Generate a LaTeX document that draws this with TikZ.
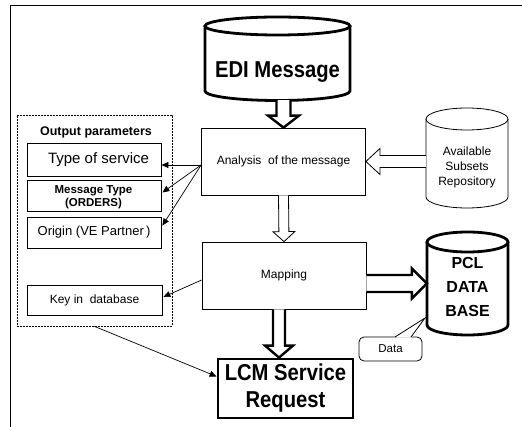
\documentclass[tikz,border=0pt]{standalone}
\usepackage{fontspec}
\setmainfont{Liberation Sans}
\usetikzlibrary{arrows.meta,calc}

% hollow block arrow: [style]{start}{tip}{shaft half width}{head half width}{head length}
\newcommand\blockarrow[6][]{%
  \coordinate (ba-h) at ($(#3)!#6!(#2)$);
  \filldraw[fill=white,#1]
    ($(#2)!#4!90:(#3)$) -- ($(ba-h)!#4!90:(#3)$) -- ($(ba-h)!#5!90:(#3)$) -- (#3)
    -- ($(ba-h)!#5!-90:(#3)$) -- ($(ba-h)!#4!-90:(#3)$) -- ($(#2)!#4!-90:(#3)$);
}

\tikzset{
  x=1pt, y=-1pt,
  box/.style={draw, line width=0.8pt, inner sep=0pt},
  heavy/.style={line width=2.8pt},
  thin/.style={line width=0.8pt},
  link/.style={line width=0.7pt, -{Triangle[length=7pt,width=6pt]}},
  txt/.style={inner sep=0pt, align=center},
}

\begin{document}
\begin{tikzpicture}
\useasboundingbox (0,0) rectangle (522,427);

% page frame (top and left edges)
\draw[thin] (10,427) -- (10,5) -- (522,5);

% ---- EDI message drum
\draw[heavy] (205,26) -- (205,91) arc[start angle=180,end angle=360,x radius=72.5pt,y radius=9.5pt] -- (350,26);
\draw[heavy] (277.5,26) ellipse[x radius=72.5pt,y radius=9pt];
\node[inner sep=0pt, minimum width=145pt, minimum height=83pt] (edi) at (277.5,58.5) {};
\node[txt, font=\fontsize{23}{26}\selectfont\bfseries] (editxt) at (277.5,72) {\scalebox{0.88}[1]{EDI Message}};

% ---- process boxes
\node[box, minimum width=164pt, minimum height=67pt, font=\fontsize{12}{14}\selectfont] (ana) at (283.5,161.5) {Analysis\ \ of the message};
\node[box, minimum width=164pt, minimum height=67pt, font=\fontsize{12}{14}\selectfont] (map) at (284,275.5) {Mapping};
\node[box, heavy, minimum width=135pt, minimum height=59pt, align=center,
      font=\fontsize{23}{28}\selectfont\bfseries] (lcm) at (285.5,388.5)
      {\scalebox{0.88}[1]{LCM Service}\\[-1pt]\scalebox{0.88}[1]{Request}};

% ---- output parameters group
\node[box, dash pattern=on 2pt off 1pt, minimum width=155pt, minimum height=211pt] (out) at (94.5,220.5) {};
\node[txt, font=\fontsize{12.5}{14}\selectfont\bfseries] (outtitle) at (96,132) {Output parameters};
\node[box, minimum width=134pt, minimum height=33pt, font=\fontsize{15}{17}\selectfont] (tos) at (94,159.5) {\hspace*{9pt}Type of service};
\node[box, minimum width=134pt, minimum height=31pt] (msg) at (94,195.5) {};
\node[txt, font=\fontsize{11.5}{13.5}\selectfont\bfseries] (msgtxt) at (93.5,197) {Message Type\\(ORDERS)};
\node[box, minimum width=134pt, minimum height=31pt, font=\fontsize{13}{15}\selectfont] (ori) at (94,232.5) {Origin (VE Partner\,)};
\node[box, minimum width=135pt, minimum height=30pt, font=\fontsize{12}{14}\selectfont] (key) at (94.5,300) {Key in\ \ database};

% ---- repository drum
\draw[thin] (426,119) -- (426,197) arc[start angle=180,end angle=360,x radius=41pt,y radius=11pt] -- (508,119);
\draw[thin] (467,119) ellipse[x radius=41pt,y radius=11pt];
\node[inner sep=0pt, minimum width=82pt, minimum height=100pt] (rep) at (467,158) {};
\node[txt, font=\fontsize{12}{15}\selectfont] (reptxt) at (467,167) {Available\\Subsets\\Repository};

% ---- data callout (drawn beneath the database drum)
\coordinate (dtip) at (425,318);
\node[draw, thin, rounded corners=5pt, minimum width=63pt, minimum height=24pt,
      font=\fontsize{11.5}{13}\selectfont] (data) at (390.5,349) {Data};
\fill[white] (394.5,337.6) -- (dtip) -- (411.5,337.6) -- cycle;
\draw[thin] (395,337) -- (dtip) -- (411,337);

% ---- PCL database drum
\draw[heavy] (427,242) -- (427,325) arc[start angle=180,end angle=360,x radius=40.5pt,y radius=10pt] -- (508,242);
\draw[heavy] (467.5,242) ellipse[x radius=40.5pt,y radius=10pt];
\node[inner sep=0pt, minimum width=81pt, minimum height=103pt] (pcl) at (467.5,283.5) {};
\node[txt, font=\fontsize{16}{24}\selectfont\bfseries] (pcltxt) at (467.5,287) {PCL\\DATA\\BASE};

% ---- block arrows
\coordinate (e1) at (edi.south -| ana.north);
\blockarrow[line width=2.4pt]{e1}{ana.north}{7pt}{15.5pt}{12pt}
\blockarrow[thin]{ana.south}{map.north}{5pt}{11pt}{10pt}
\coordinate (m1) at ($(map.south)+(-5,0)$);
\coordinate (l1) at (lcm.north -| m1);
\blockarrow[line width=2.4pt]{m1}{l1}{6pt}{14pt}{12pt}
\coordinate (r1) at (rep.west |- ana.east);
\blockarrow[thin]{r1}{ana.east}{6pt}{13pt}{14pt}
\coordinate (p1) at (map.east |- pcl.west);
\blockarrow[line width=2.4pt]{p1}{pcl.west}{8.5pt}{15pt}{15pt}

% ---- output links
\coordinate (fan) at ($(ana.west)+(0,3.5)$);
\draw[link] (fan) -- (tos.east |- fan);
\draw[link] (fan) -- ($(msg.east)+(1,-3)$);
\draw[link] (fan) -- ($(ori.north east)+(1,9)$);
\draw[link] ($(map.west)+(0,4.5)$) -- ($(key.east)+(1,-3)$);
\draw[link] (out.south) -- ($(lcm.west)+(0,-12)$);

\end{tikzpicture}
\end{document}
